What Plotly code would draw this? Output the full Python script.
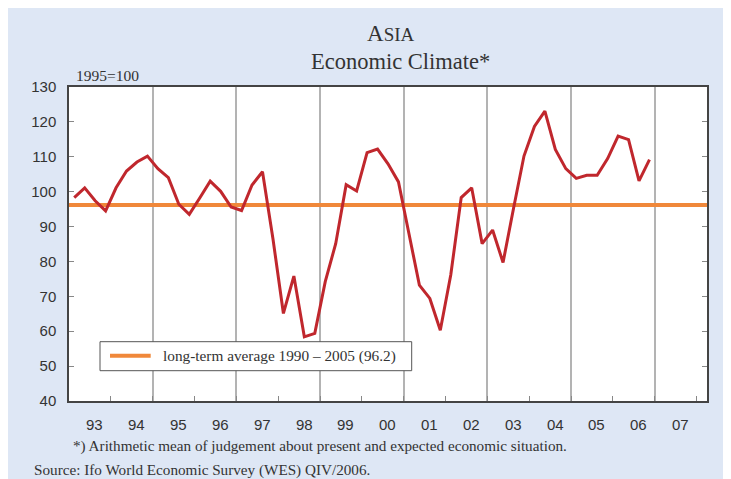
import plotly.graph_objects as go

# ---------------- data ----------------
years = list(range(1993, 2007))
quarters = [1, 2, 3, 4]
climate = [
    98.3, 101.1, 97.4, 94.5,    # 1993
    101.1, 105.9, 108.5, 110.2,  # 1994
    106.6, 104.0, 96.4, 93.5,   # 1995
    98.2, 103.0, 100.1, 95.6,   # 1996
    94.6, 101.9, 105.7, 86.5,   # 1997
    65.1, 75.8, 58.4, 59.4,     # 1998
    74.2, 85.1, 102.0, 100.2,   # 1999
    111.2, 112.2, 108.0, 102.8,  # 2000
    88.0, 73.2, 69.4, 60.3,     # 2001
    76.1, 98.3, 101.1, 85.1,    # 2002
    89.0, 79.7, 95.2, 110.2,    # 2003
    118.7, 123.1, 112.1, 106.6,  # 2004
    103.8, 104.7, 104.7, 109.5,  # 2005
    115.9, 114.9, 103.1, 109.2,  # 2006
]
long_term_avg = 96.2
avg_label = "long-term average 1990 \u2013 2005 (96.2)"
year_labels = ["93", "94", "95", "96", "97", "98", "99", "00", "01", "02", "03", "04", "05", "06", "07"]
label_years = list(range(1993, 2008))
y_ticks = [40, 50, 60, 70, 80, 90, 100, 110, 120, 130]

# quarter midpoints on a decimal-year axis
x_q = [y + (q - 0.5) / 4 for y in years for q in quarters]

X_MIN, X_MAX = 1993.0, 2008.25

# ---------------- layout helpers (page pixel -> paper) ----------------
W, H = 731, 479
OFF = 8                      # page body margin
ML, MT = 61, 79
PW, PH = 638, 314
MR, MB = W - ML - PW, H - MT - PH


def px(x):
    return (x - OFF - ML) / PW


def py(y):
    return (H - MB - (y - OFF)) / PH


BLUE = "#dee7f5"
RED = "#c0272d"
ORANGE = "#f0883a"
TXT = "#333333"
SERIF = "Liberation Serif, Times New Roman, serif"
SANS = "Liberation Sans, Arial, sans-serif"

fig = go.Figure()

fig.add_trace(go.Scatter(
    x=[X_MIN, X_MAX], y=[long_term_avg, long_term_avg], mode="lines",
    line=dict(color=ORANGE, width=4), hoverinfo="skip", showlegend=False,
))
fig.add_trace(go.Scatter(
    x=x_q, y=climate, mode="lines",
    line=dict(color=RED, width=3), showlegend=False,
))

shapes = [
    # manual legend box
    dict(type="rect", xref="paper", yref="paper", x0=px(100), x1=px(411.7), y0=py(370.7), y1=py(341.7),
         fillcolor="white", line=dict(color="#555555", width=1), layer="above"),
    dict(type="line", xref="paper", yref="paper", x0=px(110), x1=px(150.7), y0=py(355.7), y1=py(355.7),
         line=dict(color=ORANGE, width=4), layer="above"),
]

annotations = [
    dict(text="A<span style='font-size:19px'>SIA</span>", x=px(390.5), y=py(33), xref="paper", yref="paper",
         showarrow=False, xanchor="center", yanchor="middle", font=dict(family=SERIF, size=23, color=TXT)),
    dict(text="Economic Climate*", x=px(400), y=py(61), xref="paper", yref="paper",
         showarrow=False, xanchor="center", yanchor="middle", font=dict(family=SERIF, size=22.5, color=TXT)),
    dict(text="1995=100", x=px(74), y=py(76), xref="paper", yref="paper",
         showarrow=False, xanchor="left", yanchor="middle", font=dict(family=SERIF, size=15.5, color=TXT)),
    dict(text="*) Arithmetic mean of judgement about present and expected economic situation.",
         x=px(70.5), y=py(446), xref="paper", yref="paper",
         showarrow=False, xanchor="left", yanchor="middle", font=dict(family=SERIF, size=15.2, color=TXT)),
    dict(text="Source: Ifo World Economic Survey (WES) QIV/2006.",
         x=px(32), y=py(470), xref="paper", yref="paper",
         showarrow=False, xanchor="left", yanchor="middle", font=dict(family=SERIF, size=15.2, color=TXT)),
    dict(text=avg_label, x=px(160.5), y=py(356), xref="paper", yref="paper",
         showarrow=False, xanchor="left", yanchor="middle", font=dict(family=SERIF, size=15.3, color=TXT)),
]
for yr, lab in zip(label_years, year_labels):
    annotations.append(dict(
        text=lab, x=yr + 0.62, y=py(424), xref="x", yref="paper", showarrow=False,
        xanchor="center", yanchor="middle", font=dict(family=SANS, size=15, color=TXT),
    ))

fig.update_layout(
    width=W, height=H,
    margin=dict(l=ML, r=MR, t=MT, b=MB, pad=0),
    paper_bgcolor=BLUE, plot_bgcolor="white",
    showlegend=False,
    shapes=shapes, annotations=annotations,
    xaxis=dict(
        range=[X_MIN, X_MAX], tickmode="array", tickvals=list(range(1994, 2009)),
        ticks="inside", ticklen=5, tickcolor="#888888", tickwidth=1,
        showticklabels=False, showgrid=False, zeroline=False,
        showline=True, linecolor="#444444", linewidth=1.5, mirror=True,
        minor=dict(tickmode="array", tickvals=list(range(1995, 2008, 2)), showgrid=True,
                   gridcolor="#b3b3b3", gridwidth=1.5, ticks=""),
    ),
    yaxis=dict(
        range=[40, 130], tickmode="array", tickvals=y_ticks,
        ticks="inside", ticklen=5, tickcolor="#888888", tickwidth=1,
        showgrid=False, zeroline=False,
        showline=True, linecolor="#444444", linewidth=1.5, mirror="ticks",
        tickfont=dict(family=SANS, size=15, color=TXT), ticklabelstandoff=8,
    ),
)

fig.write_html("out.html")
